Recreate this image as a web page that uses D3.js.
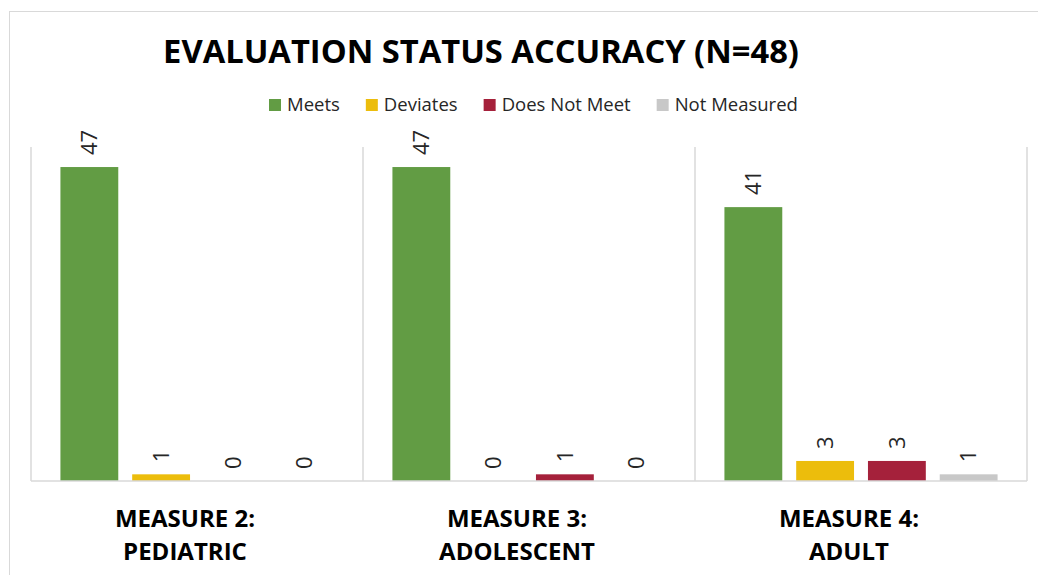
<!DOCTYPE html>
<html>
<head>
<meta charset="utf-8">
<script src="https://cdn.jsdelivr.net/npm/d3@7"></script>
<style>
  body { margin: 0; background: #fff; }
  svg { display: block; font-family: "Open Sans", sans-serif; }
</style>
</head>
<body>
<div id="chart"></div>
<script>
// data
var categories = [["MEASURE 2:", "PEDIATRIC"], ["MEASURE 3:", "ADOLESCENT"], ["MEASURE 4:", "ADULT"]];
var seriesNames = ["Meets", "Deviates", "Does Not Meet", "Not Measured"];
var seriesColors = ["#629c44", "#ecbd0c", "#a5213b", "#c8c8c8"];
var meets = [47, 47, 41];
var deviates = [1, 0, 3];
var doesNotMeet = [0, 1, 3];
var notMeasured = [0, 0, 1];
var seriesValues = [meets, deviates, doesNotMeet, notMeasured];

var width = 1038, height = 575;
var plot = { left: 31, right: 1027, top: 147, bottom: 481 };

var svg = d3.select("#chart")
    .append("svg")
    .attr("width", width)
    .attr("height", height);

// outer frame
svg.append("rect")
    .attr("x", 9.5).attr("y", 11.5)
    .attr("width", 1100).attr("height", 700)
    .attr("fill", "none")
    .attr("stroke", "#d9d9d9");

// title
svg.append("text")
    .attr("x", 481).attr("y", 63)
    .attr("text-anchor", "middle")
    .style("font-size", "32.7px")
    .style("font-weight", "bold")
    .style("fill", "#000")
    .text("EVALUATION STATUS ACCURACY (N=48)");

// scales
var x0 = d3.scaleBand()
    .domain(d3.range(categories.length))
    .range([plot.left, plot.right])
    .padding(0);

var x1 = d3.scaleBand()
    .domain(d3.range(seriesNames.length))
    .range([0, x0.bandwidth()])
    .paddingInner(0.194)
    .paddingOuter(0.41);

var y = d3.scaleLinear()
    .domain([0, 50])
    .range([plot.bottom, plot.top]);

// vertical separators
var seps = d3.range(categories.length + 1).map(function (i) {
    return i < categories.length ? x0(i) : plot.right;
});
svg.selectAll("line.sep")
    .data(seps)
    .enter()
    .append("line")
    .attr("class", "sep")
    .attr("x1", function (d) { return d; })
    .attr("x2", function (d) { return d; })
    .attr("y1", y(50))
    .attr("y2", y(0))
    .style("stroke", "#d9d9d9")
    .style("stroke-width", 1.5);

// bars
var groups = svg.selectAll("g.grp")
    .data(categories)
    .enter()
    .append("g")
    .attr("class", "grp")
    .attr("transform", function (d, i) { return "translate(" + x0(i) + ",0)"; });

groups.each(function (c, gi) {
    var g = d3.select(this);
    var rows = seriesNames.map(function (s, si) {
        return { si: si, v: seriesValues[si][gi] };
    });
    g.selectAll("rect")
        .data(rows)
        .enter()
        .append("rect")
        .attr("x", function (d) { return x1(d.si); })
        .attr("width", x1.bandwidth())
        .attr("y", function (d) { return y(d.v); })
        .attr("height", function (d) { return y(0) - y(d.v); })
        .style("fill", function (d) { return seriesColors[d.si]; });

    g.selectAll("text.val")
        .data(rows)
        .enter()
        .append("text")
        .attr("class", "val")
        .attr("transform", function (d) {
            return "translate(" + (x1(d.si) + x1.bandwidth() / 2) + "," + (y(d.v) - 12) + ") rotate(-90)";
        })
        .attr("dy", "0.35em")
        .style("font-size", "22px")
        .style("fill", "#262626")
        .text(function (d) { return d.v; });

    // category label
    var lab = g.append("text")
        .attr("text-anchor", "middle")
        .style("font-size", "24px")
        .style("font-weight", "bold")
        .style("fill", "#000");
    c.forEach(function (line, li) {
        lab.append("tspan")
            .attr("x", x0.bandwidth() / 2 - 12)
            .attr("y", 527 + li * 33)
            .text(line);
    });
});

// baseline
svg.append("line")
    .attr("x1", plot.left).attr("x2", plot.right)
    .attr("y1", y(0)).attr("y2", y(0))
    .style("stroke", "#d9d9d9")
    .style("stroke-width", 1.5);

// legend
var legend = svg.append("g");
var lx = 269;
seriesNames.forEach(function (name, i) {
    legend.append("rect")
        .attr("x", lx).attr("y", 99)
        .attr("width", 12).attr("height", 12)
        .style("fill", seriesColors[i]);
    var t = legend.append("text")
        .attr("x", lx + 18).attr("y", 111)
        .style("font-size", "18.5px")
        .style("fill", "#262626")
        .text(name);
    lx += 18 + t.node().getComputedTextLength() + 26;
});
</script>
</body>
</html>
